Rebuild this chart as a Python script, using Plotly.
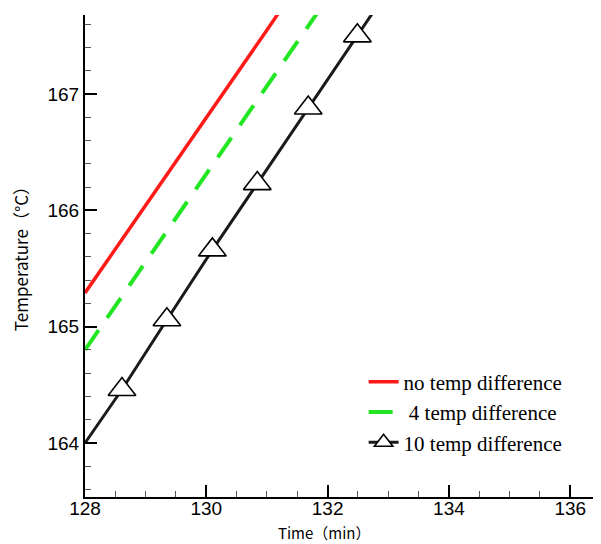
import plotly.graph_objects as go

# data
t_none = [128.0, 129.0, 130.0, 131.0, 131.3]
T_none = [165.29, 166.04, 166.80, 167.55, 167.78]

t_four = [128.0, 129.0, 130.0, 131.0, 131.9]
T_four = [164.80, 165.56, 166.31, 167.07, 167.75]

t_ten = [128.0, 128.61, 129.35, 130.10, 130.84, 131.68, 132.49, 132.85]
T_ten = [164.00, 164.46, 165.06, 165.66, 166.23, 166.88, 167.50, 167.78]
ten_marker = [0, 1, 1, 1, 1, 1, 1, 0]

x_ticks = [128, 130, 132, 134, 136]
y_ticks = [164, 165, 166, 167]

fig = go.Figure()

fig.add_trace(go.Scatter(x=t_none, y=T_none, mode="lines", name="no temp difference",
                         line=dict(color="#ff1a1a", width=3.5)))
fig.add_trace(go.Scatter(x=t_four, y=T_four, mode="lines", name=" 4 temp difference",
                         line=dict(color="#22e622", width=4, dash="24px,15px")))
fig.add_trace(go.Scatter(x=t_ten, y=T_ten, mode="lines+markers", name="10 temp difference",
                         line=dict(color="#1a1a1a", width=3),
                         marker=dict(symbol="triangle-up", size=[24 * m for m in ten_marker],
                                     color="#ffffff", opacity=1,
                                     line=dict(color="black", width=1.6))))

axis_common = dict(showgrid=False, zeroline=False, showline=True, linecolor="black", linewidth=2,
                   ticks="inside", ticklen=12, tickwidth=2, tickcolor="black",
                   tickfont=dict(family="Liberation Sans, Arial", size=19, color="black"))

fig.update_xaxes(range=[128, 136.49], tickvals=x_ticks, ticklabelstandoff=-7,
                 minor=dict(dtick=0.5, tick0=128, ticks="inside", ticklen=6, tickwidth=1, tickcolor="#555"),
                 **axis_common)
fig.update_yaxes(range=[163.536, 167.679], tickvals=y_ticks,
                 minor=dict(dtick=0.2, tick0=164, ticks="inside", ticklen=6, tickwidth=1, tickcolor="#555"),
                 **axis_common)

# page has an 8px body margin, so the figure is shifted by 8px
fig.add_annotation(text="Time（min）", xref="paper", yref="paper", x=0.464, y=-0.074,
                   xanchor="center", yanchor="middle", showarrow=False,
                   font=dict(family="Noto Sans CJK SC", size=15, color="black"))
fig.add_annotation(text="Temperature（°C）", xref="paper", yref="paper", x=-0.126, y=0.502,
                   xanchor="center", yanchor="middle", textangle=-90, showarrow=False,
                   font=dict(family="Noto Sans CJK SC", size=17, color="black"))

fig.update_layout(
    width=593, height=536,
    margin=dict(l=77, r=1, t=7, b=47),
    plot_bgcolor="white", paper_bgcolor="white",
    legend=dict(x=0.541, y=0.281, xanchor="left", yanchor="top", bgcolor="rgba(0,0,0,0)",
                font=dict(family="Liberation Serif, Times New Roman", size=21, color="black")),
)

fig.write_html("out.html")
